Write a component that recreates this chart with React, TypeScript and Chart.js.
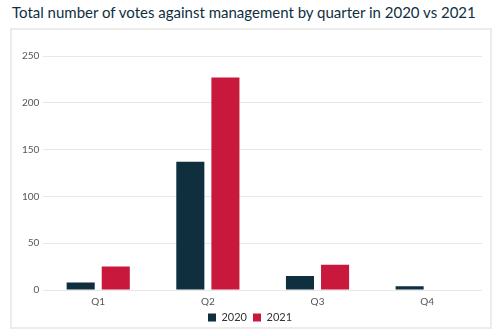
import React, { useEffect, useRef } from "react";
import { Chart, registerables } from "chart.js";

Chart.register(...registerables);

const titleText = "Total number of votes against management by quarter in 2020 vs 2021";
const quarters = ["Q1", "Q2", "Q3", "Q4"];
const seriesLabels = ["2020", "2021"];
const votes2020 = [8, 137, 15, 4];
const votes2021 = [25, 227, 27, 0];
const seriesColors = ["#0f2f3f", "#c8183b"];

export default function App() {
  const ref = useRef<HTMLCanvasElement | null>(null);

  useEffect(() => {
    if (!ref.current) return;
    const font = "Lato, 'Open Sans', sans-serif";
    const chart = new Chart(ref.current, {
      type: "bar",
      data: {
        labels: quarters,
        datasets: [
          {
            label: seriesLabels[0],
            data: votes2020,
            backgroundColor: seriesColors[0],
            barPercentage: 0.8,
            categoryPercentage: 0.64,
          },
          {
            label: seriesLabels[1],
            data: votes2021,
            backgroundColor: seriesColors[1],
            barPercentage: 0.8,
            categoryPercentage: 0.64,
          },
        ],
      },
      options: {
        animation: false,
        responsive: false,
        maintainAspectRatio: false,
        layout: { padding: { top: 26, left: 6, right: 8, bottom: -6 } },
        scales: {
          x: {
            grid: { display: false },
            border: { display: false },
            ticks: { color: "#555", font: { family: font, size: 10 }, padding: -2 },
          },
          y: {
            min: 0,
            max: 250,
            ticks: { stepSize: 50, color: "#555", font: { family: font, size: 10 }, padding: 4 },
            grid: { color: "#e8e8e8", drawTicks: false },
            border: { display: false },
          },
        },
        plugins: {
          legend: {
            position: "bottom",
            labels: {
              boxWidth: 8,
              boxHeight: 8,
              padding: 6,
              color: "#333",
              font: { family: font, size: 11 },
            },
          },
          tooltip: { enabled: false },
        },
      },
    });
    return () => chart.destroy();
  }, []);

  return (
    <div style={{ position: "absolute", left: 0, top: 0, width: 500, height: 333, background: "#fff" }}>
      <div
        style={{
          position: "absolute",
          left: 12,
          top: 2,
          fontFamily: "Lato, 'Open Sans', sans-serif",
          fontSize: 15,
          color: "#0f2f3f",
          whiteSpace: "nowrap",
          lineHeight: "20px",
        }}
      >
        {titleText}
      </div>
      <div
        style={{
          position: "absolute",
          left: 10,
          top: 28,
          width: 478,
          height: 297,
          border: "2px solid #ececec",
        }}
      >
        <canvas ref={ref} width={478} height={297} style={{ display: "block", width: 478, height: 297 }} />
      </div>
    </div>
  );
}
